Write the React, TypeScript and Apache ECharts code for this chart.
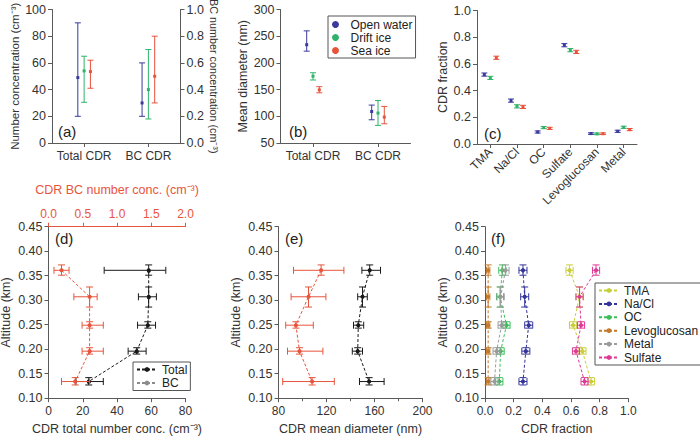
import React, { useEffect, useRef } from 'react';
import * as echarts from 'echarts';

const FF = '"Liberation Sans", Arial, Helvetica, sans-serif';
const AX = '#5a5a5a';
const TXT = '#333333';

// ---------- panels (a)-(c) ----------
const categoriesAB = ['Total CDR', 'BC CDR'];
const regimes = ['Open water', 'Drift ice', 'Sea ice'];
const regimeColors = ['#3a3a9c', '#2fb36a', '#e8533b'];

const aTotalMean = [49, 54, 53.5];
const aTotalLow = [20, 30.5, 41];
const aTotalHigh = [90, 65, 62];
const aBCMean = [0.3, 0.4, 0.5];
const aBCLow = [0.2, 0.18, 0.3];
const aBCHigh = [0.6, 0.7, 0.8];

const bTotalMean = [234, 175, 149.5];
const bTotalLow = [222, 168, 144];
const bTotalHigh = [260, 181.5, 155.5];
const bBCMean = [109, 106, 98.5];
const bBCLow = [93.5, 83, 86];
const bBCHigh = [121, 129.5, 118.5];

const species = ['TMA', 'Na/Cl', 'OC', 'Sulfate', 'Levoglucosan', 'Metal'];
const cOpen = [0.52, 0.325, 0.09, 0.74, 0.078, 0.095];
const cDrift = [0.495, 0.282, 0.123, 0.703, 0.076, 0.125];
const cSea = [0.646, 0.278, 0.117, 0.69, 0.077, 0.108];
const cErr = [0.012, 0.012, 0.008, 0.012, 0.006, 0.008];

// ---------- panels (d)-(f) ----------
const altitude = [0.361, 0.307, 0.249, 0.196, 0.134];
const altLow = [0.351, 0.286, 0.243, 0.19, 0.127];
const altHigh = [0.372, 0.327, 0.256, 0.203, 0.142];

const dTotal = [58.5, 58.5, 58, 51.5, 23.5];
const dTotalLow = [32.5, 52.5, 52, 46.5, 16];
const dTotalHigh = [68.5, 63, 62.5, 57, 32];
const dBC = [0.19, 0.6, 0.6, 0.6, 0.39];
const dBCLow = [0.08, 0.37, 0.49, 0.49, 0.19];
const dBCHigh = [0.3, 0.71, 0.8, 0.8, 0.6];

const eTotal = [156, 150, 146.5, 146, 155.5];
const eTotalLow = [149.5, 146, 142.5, 141.5, 147.5];
const eTotalHigh = [165, 154, 151, 150, 168];
const eBC = [115.5, 105, 94.5, 97.5, 108];
const eBCLow = [92.5, 90.5, 86, 87.5, 83.5];
const eBCHigh = [134.5, 119.5, 109, 117, 126.5];

const profileNames = ['TMA', 'Na/Cl', 'OC', 'Levoglucosan', 'Metal', 'Sulfate'];
const profileColors = ['#c8cf3a', '#34349a', '#3cbf5a', '#c47a2c', '#9b9b9b', '#de3b94'];
const fTMA = [0.59, 0.66, 0.615, 0.68, 0.74];
const fNaCl = [0.265, 0.277, 0.305, 0.285, 0.265];
const fOC = [0.121, 0.105, 0.15, 0.109, 0.1];
const fLevo = [0.022, 0.022, 0.022, 0.022, 0.022];
const fMetal = [0.143, 0.109, 0.116, 0.081, 0.066];
const fSulfate = [0.775, 0.66, 0.67, 0.635, 0.695];
const fErr = [0.025, 0.028, 0.025, 0.012, 0.025, 0.025];

const TOTAL_COLOR = '#1a1a1a';
const BC_COLOR = '#e8553d';

function vErrItem(offset: number, color: string, cap: number) {
  return (_p: any, api: any) => {
    const cat = api.value(0);
    const c = api.coord([cat, api.value(1)]);
    const lo = api.coord([cat, api.value(2)]);
    const hi = api.coord([cat, api.value(3)]);
    const x = c[0] + offset;
    const st = { stroke: color, lineWidth: 1 };
    return {
      type: 'group',
      children: [
        { type: 'line', shape: { x1: x, y1: lo[1], x2: x, y2: hi[1] }, style: st },
        { type: 'line', shape: { x1: x - cap, y1: lo[1], x2: x + cap, y2: lo[1] }, style: st },
        { type: 'line', shape: { x1: x - cap, y1: hi[1], x2: x + cap, y2: hi[1] }, style: st },
        { type: 'rect', shape: { x: x - 1.5, y: c[1] - 1.5, width: 3, height: 3 }, style: { fill: color } },
      ],
    };
  };
}

function xyErrItem(color: string, cap: number) {
  return (_p: any, api: any) => {
    const x = api.value(0);
    const y = api.value(1);
    const c = api.coord([x, y]);
    const xl = api.coord([api.value(2), y])[0];
    const xh = api.coord([api.value(3), y])[0];
    const yl = api.coord([x, api.value(4)])[1];
    const yh = api.coord([x, api.value(5)])[1];
    const st = { stroke: color, lineWidth: 1 };
    return {
      type: 'group',
      children: [
        { type: 'line', shape: { x1: xl, y1: c[1], x2: xh, y2: c[1] }, style: st },
        { type: 'line', shape: { x1: xl, y1: c[1] - cap, x2: xl, y2: c[1] + cap }, style: st },
        { type: 'line', shape: { x1: xh, y1: c[1] - cap, x2: xh, y2: c[1] + cap }, style: st },
        { type: 'line', shape: { x1: c[0], y1: yl, x2: c[0], y2: yh }, style: st },
        { type: 'line', shape: { x1: c[0] - cap, y1: yl, x2: c[0] + cap, y2: yl }, style: st },
        { type: 'line', shape: { x1: c[0] - cap, y1: yh, x2: c[0] + cap, y2: yh }, style: st },
        { type: 'circle', shape: { cx: c[0], cy: c[1], r: 1.8 }, style: { fill: color } },
      ],
    };
  };
}

function catErrSeries(name: string, color: string, offset: number, xi: number, yi: number,
  cats: number[], mean: number[], lo: number[], hi: number[]) {
  return {
    type: 'custom', name, xAxisIndex: xi, yAxisIndex: yi,
    itemStyle: { color },
    renderItem: vErrItem(offset, color, 3),
    data: cats.map((c, i) => [c, mean[i], lo[i], hi[i]]),
    z: 5,
  };
}

function profileSeries(name: string, color: string, xi: number, yi: number,
  xs: number[], xlo: number[], xhi: number[], cap = 3.5) {
  return [
    {
      type: 'line', name, xAxisIndex: xi, yAxisIndex: yi,
      data: xs.map((v, i) => [v, altitude[i]]),
      symbol: 'circle', symbolSize: 4, showSymbol: true,
      lineStyle: { type: [3, 2], width: 1, color },
      itemStyle: { color },
      z: 3,
    },
    {
      type: 'custom', name: name + ' error', xAxisIndex: xi, yAxisIndex: yi,
      itemStyle: { color },
      renderItem: xyErrItem(color, cap),
      data: xs.map((v, i) => [v, altitude[i], xlo[i], xhi[i], altLow[i], altHigh[i]]),
      z: 4,
    },
  ];
}

function valAxis(o: any) {
  const { label, name, nameGap, color, nameSize, ...rest } = o;
  const col = color || AX;
  return {
    type: 'value',
    axisLine: { show: true, lineStyle: { color: col, width: 1 } },
    axisTick: { show: true, length: 4, lineStyle: { color: col } },
    splitLine: { show: false },
    axisLabel: { color: color || TXT, fontSize: 12.5, fontFamily: FF, margin: 6, ...(label || {}) },
    name, nameGap, nameLocation: 'middle',
    nameTextStyle: { color: color || TXT, fontSize: nameSize || 12.5, fontFamily: FF },
    ...rest,
  };
}

function catAxis(gridIndex: number, data: string[], label: any = {}) {
  return {
    type: 'category', gridIndex, data,
    axisLine: { show: true, lineStyle: { color: AX, width: 1 } },
    axisTick: { show: true, alignWithLabel: true, length: 4, lineStyle: { color: AX } },
    splitLine: { show: false },
    axisLabel: { color: TXT, fontSize: 12, fontFamily: FF, margin: 7, interval: 0, ...label },
  };
}

const f1 = (v: number) => v.toFixed(1);
const f2 = (v: number) => v.toFixed(2);

function buildOption() {
  const series: any[] = [];
  const offsets = [-6.3, 0, 6.3];
  regimes.forEach((r, k) => {
    const col = regimeColors[k];
    series.push(catErrSeries(r, col, offsets[k], 0, 0, [0], [aTotalMean[k]], [aTotalLow[k]], [aTotalHigh[k]]));
    series.push(catErrSeries(r, col, offsets[k], 0, 1, [1], [aBCMean[k]], [aBCLow[k]], [aBCHigh[k]]));
    series.push(catErrSeries(r, col, offsets[k], 1, 2, [0, 1], [bTotalMean[k], bBCMean[k]],
      [bTotalLow[k], bBCLow[k]], [bTotalHigh[k], bBCHigh[k]]));
  });
  const cVals = [cOpen, cDrift, cSea];
  regimes.forEach((r, k) => {
    const v = cVals[k];
    series.push(catErrSeries(r, regimeColors[k], offsets[k] * 0.95, 2, 3, species.map((_, i) => i), v,
      v.map((x, i) => x - cErr[i]), v.map((x, i) => x + cErr[i])));
  });
  series.push(...profileSeries('Total', TOTAL_COLOR, 3, 4, dTotal, dTotalLow, dTotalHigh));
  series.push(...profileSeries('BC', BC_COLOR, 4, 4, dBC, dBCLow, dBCHigh));
  series.push(...profileSeries('Total', TOTAL_COLOR, 5, 5, eTotal, eTotalLow, eTotalHigh));
  series.push(...profileSeries('BC', BC_COLOR, 5, 5, eBC, eBCLow, eBCHigh));
  const fVals = [fTMA, fNaCl, fOC, fLevo, fMetal, fSulfate];
  profileNames.forEach((n, k) => {
    const v = fVals[k];
    series.push(...profileSeries(n, profileColors[k], 6, 6, v,
      v.map((x) => x - fErr[k]), v.map((x) => x + fErr[k]), 3.5));
  });

  const altAxis = (gridIndex: number) => valAxis({
    gridIndex, min: 0.1, max: 0.45, interval: 0.05, label: { formatter: f2 },
    name: 'Altitude (km)', nameGap: 36,
  });

  const panelLabel = (text: string, left: number, top: number) => ({
    type: 'text', left, top,
    style: { text, fontSize: 15, fontFamily: FF, fill: '#222' },
  });

  const legendText = { color: '#222', fontSize: 12, fontFamily: FF, lineHeight: 13 };

  return {
    animation: false,
    grid: [
      { left: 52, top: 9.5, width: 128.5, height: 133.5, outerBoundsMode: 'none' },
      { left: 280.5, top: 9.5, width: 130, height: 133.5, outerBoundsMode: 'none' },
      { left: 477, top: 10.5, width: 160, height: 133.5, outerBoundsMode: 'none' },
      { left: 48.5, top: 226.7, width: 137, height: 171.5, outerBoundsMode: 'none' },
      { left: 278.5, top: 226.7, width: 144, height: 171.5, outerBoundsMode: 'none' },
      { left: 485, top: 226.7, width: 143.3, height: 171.5, outerBoundsMode: 'none' },
    ],
    xAxis: [
      catAxis(0, categoriesAB),
      catAxis(1, categoriesAB),
      catAxis(2, species, { rotate: 45, margin: 6 }),
      valAxis({ gridIndex: 3, min: 0, max: 80, interval: 20, label: { fontSize: 12, margin: 7 },
        name: 'CDR total number conc. (cm⁻³)', nameGap: 24 }),
      valAxis({ gridIndex: 3, position: 'top', min: 0, max: 2, interval: 0.5, color: BC_COLOR,
        label: { formatter: f1, fontSize: 12, margin: 7 },
        name: 'CDR BC number conc. (cm⁻³)', nameGap: 30 }),
      valAxis({ gridIndex: 4, min: 80, max: 200, interval: 40, label: { fontSize: 12, margin: 7 },
        minorTick: { show: true, splitNumber: 2, length: 3, lineStyle: { color: AX } },
        name: 'CDR mean diameter (nm)', nameGap: 24 }),
      valAxis({ gridIndex: 5, min: 0, max: 1, interval: 0.2, label: { formatter: f1, fontSize: 12, margin: 7 },
        name: 'CDR fraction', nameGap: 24 }),
    ],
    yAxis: [
      valAxis({ gridIndex: 0, min: 0, max: 100, interval: 20,
        name: 'Number concentration (cm⁻³)', nameGap: 30, nameSize: 11.5 }),
      valAxis({ gridIndex: 0, position: 'right', min: 0, max: 1, interval: 0.2, label: { formatter: f1 },
        name: 'BC number concentration (cm⁻³)', nameGap: 28, nameRotate: -90, nameSize: 10.8 }),
      valAxis({ gridIndex: 1, min: 50, max: 300, interval: 50,
        name: 'Mean diameter (nm)', nameGap: 29 }),
      valAxis({ gridIndex: 2, min: 0, max: 1, interval: 0.2, label: { formatter: f1 },
        name: 'CDR fraction', nameGap: 27 }),
      altAxis(3),
      altAxis(4),
      altAxis(5),
    ],
    legend: [
      {
        data: regimes, left: 328, top: 16, orient: 'vertical', icon: 'circle',
        itemWidth: 20, itemHeight: 7, itemGap: 0, padding: [2, 3, 1, 4],
        borderColor: '#555', borderWidth: 1, textStyle: legendText, selectedMode: false,
      },
      {
        data: ['Total', { name: 'BC', itemStyle: { color: '#8c8c8c' }, lineStyle: { color: '#8c8c8c' } }],
        left: 133, top: 362, orient: 'vertical', itemWidth: 20, itemHeight: 6, itemGap: 0.5,
        padding: [1, 3, 1, 3], borderColor: '#555', borderWidth: 1, textStyle: legendText, selectedMode: false,
      },
      {
        data: profileNames, left: 595, top: 283, orient: 'vertical', itemWidth: 20, itemHeight: 6, itemGap: 0.4,
        padding: [1, 3, 1, 3], borderColor: '#555', borderWidth: 1, textStyle: legendText, selectedMode: false,
      },
    ],
    graphic: [
      panelLabel('(a)', 58, 124),
      panelLabel('(b)', 289, 124),
      panelLabel('(c)', 484, 126),
      panelLabel('(d)', 55, 231),
      panelLabel('(e)', 285, 231),
      panelLabel('(f)', 491, 231),
    ],
    series,
  };
}

export default function App() {
  const ref = useRef<HTMLDivElement>(null);
  useEffect(() => {
    const chart = echarts.init(ref.current!, null, { renderer: 'svg' });
    chart.setOption(buildOption() as any);
    return () => chart.dispose();
  }, []);
  return <div ref={ref} style={{ position: 'absolute', left: 0, top: 0, width: 700, height: 438 }} />;
}
